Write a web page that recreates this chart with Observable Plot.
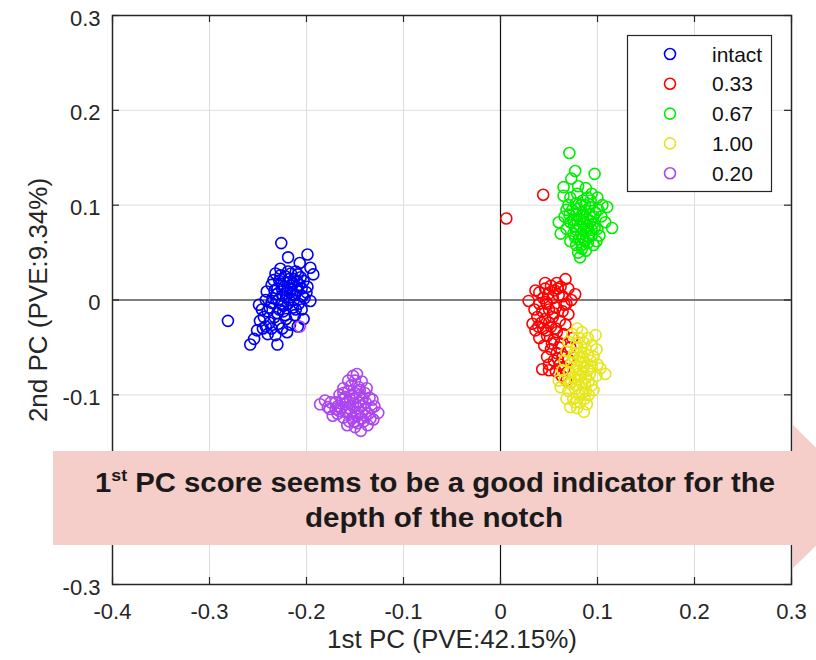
<!DOCTYPE html>
<html>
<head>
<meta charset="utf-8">
<script src="https://cdn.jsdelivr.net/npm/d3@7"></script>
<script src="https://cdn.jsdelivr.net/npm/@observablehq/plot@0.6"></script>
<style>
  html, body { margin: 0; padding: 0; background: #fff; }
  #wrap { position: relative; width: 816px; height: 660px; overflow: hidden; }
  #overlay { position: absolute; left: 0; top: 0; pointer-events: none; }
</style>
</head>
<body>
<div id="wrap"></div>
<script>
const xTicks = [-0.4, -0.3, -0.2, -0.1, 0, 0.1, 0.2, 0.3];
const yTicks = [-0.3, -0.2, -0.1, 0, 0.1, 0.2, 0.3];
// the -0.2 y label is hidden behind the annotation arrow in the reference
const yTickLabels = [-0.3, -0.1, 0, 0.1, 0.2, 0.3];
const xLabel = "1st PC (PVE:42.15%)";
const yLabel = "2nd PC (PVE:9.34%)";
const groupNames = ["intact", "0.33", "0.67", "1.00", "0.20"];
const groupColors = ["#0000f0", "#ff0000", "#00ee00", "#e6e61c", "#ad45f0"];
const arrowLines = ["1st PC score seems to be a good indicator for the", "depth of the notch"];

const intactPts = [
[-0.281,-0.022],[-0.226,0.060],[-0.219,0.045],[-0.199,0.048],[-0.207,0.039],[-0.196,0.034],[-0.193,0.027],
[-0.258,-0.047],[-0.230,-0.047],[-0.220,-0.034],[-0.203,-0.020],[-0.196,-0.001],[-0.241,0.009],[-0.249,-0.005],
[-0.251,-0.032],[-0.254,-0.041],[-0.245,-0.030],[-0.232,-0.037],[-0.244,-0.018],[-0.229,-0.025],
[-0.220,0.010],[-0.215,0.015],[-0.225,0.005],[-0.210,0.020],[-0.230,0.012],[-0.218,0.000],[-0.212,0.005],
[-0.228,0.020],[-0.222,0.025],[-0.205,0.012],[-0.235,0.002],[-0.238,-0.008],[-0.214,-0.008],[-0.224,-0.012],
[-0.208,-0.004],[-0.216,0.028],[-0.232,0.028],[-0.226,-0.004],[-0.219,0.018],[-0.211,0.030],[-0.203,0.020],
[-0.236,0.016],[-0.240,-0.012],[-0.233,-0.018],[-0.221,-0.020],[-0.212,-0.016],[-0.205,-0.010],[-0.200,0.008],
[-0.227,0.033],[-0.209,-0.028],[-0.238,-0.024],[-0.246,-0.010],[-0.217,-0.026],[-0.225,-0.030],[-0.202,0.002],
[-0.213,0.022],[-0.231,0.006],[-0.223,0.014],[-0.217,0.008],[-0.228,-0.010],[-0.242,0.000],[-0.199,0.014],
[-0.221,0.003],[-0.216,0.012],[-0.226,0.017],[-0.213,0.000],[-0.207,0.016],[-0.229,0.000],[-0.218,0.022],
[-0.224,-0.006],[-0.210,0.010],[-0.233,0.010],[-0.219,-0.004],[-0.214,0.018],[-0.227,0.026],[-0.206,0.024],
[-0.222,-0.016],[-0.236,-0.003],[-0.211,-0.010],[-0.230,-0.014],[-0.215,0.006],[-0.204,0.004],[-0.225,0.011],
[-0.219,0.030],[-0.234,0.021],[-0.209,0.027],[-0.242,-0.028],[-0.248,-0.022],[-0.236,-0.030],[-0.240,-0.036]
];
const d033Pts = [
[0.006,0.086],[0.044,0.111],
[0.029,-0.001],[0.036,0.010],[0.067,0.022],[0.077,0.006],[0.043,-0.073],[0.050,-0.074],[0.033,-0.025],
[0.040,0.008],[0.046,0.012],[0.052,0.015],[0.058,0.018],[0.062,0.014],[0.070,0.012],[0.073,0.000],[0.068,-0.004],
[0.060,0.005],[0.054,0.002],[0.047,-0.002],[0.040,-0.004],[0.035,-0.010],[0.043,-0.012],[0.050,-0.010],[0.057,-0.008],
[0.064,-0.012],[0.070,-0.015],[0.038,-0.018],[0.046,-0.020],[0.054,-0.018],[0.061,-0.022],[0.067,-0.026],[0.036,-0.032],
[0.044,-0.030],[0.052,-0.028],[0.058,-0.034],[0.065,-0.036],[0.040,-0.040],[0.048,-0.038],[0.055,-0.042],[0.062,-0.046],
[0.045,-0.048],[0.052,-0.052],[0.058,-0.056],[0.064,-0.060],[0.048,-0.060],[0.055,-0.064],[0.061,-0.068],[0.066,-0.072],
[0.057,-0.075],[0.063,-0.080],[0.068,-0.085],[0.070,-0.063],[0.072,-0.050],[0.074,-0.040],[0.056,0.010],[0.064,0.004],
[0.049,0.006],[0.042,-0.024],
[0.048,-0.004],[0.055,-0.014],[0.044,0.002],[0.050,-0.024],[0.057,-0.030],[0.047,-0.032],[0.053,-0.046],
[0.060,-0.050],[0.050,-0.068],[0.059,-0.062],[0.066,-0.005],[0.059,0.012],[0.039,-0.028],[0.046,0.018]
];
const d067Pts = [
[0.071,0.155],[0.077,0.136],[0.097,0.133],[0.065,0.119],[0.065,0.110],[0.115,0.076],[0.060,0.082],[0.082,0.045],[0.110,0.098],
[0.073,0.128],[0.080,0.120],[0.088,0.118],[0.094,0.112],[0.100,0.108],[0.105,0.100],[0.072,0.108],[0.070,0.100],[0.078,0.102],
[0.085,0.105],[0.092,0.098],[0.098,0.092],[0.104,0.088],[0.108,0.082],[0.066,0.088],[0.072,0.082],[0.078,0.090],[0.085,0.092],
[0.090,0.085],[0.095,0.080],[0.100,0.075],[0.068,0.075],[0.075,0.070],[0.082,0.078],[0.088,0.072],[0.094,0.068],[0.102,0.068],
[0.072,0.062],[0.078,0.058],[0.085,0.065],[0.090,0.060],[0.096,0.058],[0.080,0.050],[0.088,0.052],[0.074,0.095],[0.082,0.085],
[0.090,0.075],[0.086,0.080],[0.076,0.078],[0.096,0.088],[0.068,0.095],[0.079,0.112],[0.087,0.100],[0.093,0.105],[0.083,0.070],
[0.091,0.067],[0.077,0.066],[0.099,0.062],[0.062,0.070],[0.084,0.058],[0.071,0.090],[0.101,0.095],[0.094,0.074],
[0.084,0.088],[0.088,0.094],[0.080,0.096],[0.092,0.090],[0.086,0.074],[0.081,0.064],[0.089,0.078],[0.079,0.084],
[0.093,0.083],[0.087,0.062],[0.083,0.100],[0.097,0.076],[0.075,0.085],[0.090,0.108],[0.084,0.054],[0.078,0.074]
];
const d100Pts = [
[0.079,-0.030],[0.098,-0.037],[0.108,-0.078],[0.086,-0.118],[0.072,-0.113],[0.062,-0.092],[0.060,-0.085],
[0.074,-0.036],[0.084,-0.034],[0.090,-0.040],[0.070,-0.044],[0.078,-0.046],[0.086,-0.045],[0.094,-0.048],[0.099,-0.052],
[0.068,-0.054],[0.076,-0.056],[0.083,-0.055],[0.090,-0.058],[0.096,-0.060],[0.066,-0.064],[0.073,-0.066],[0.080,-0.064],
[0.087,-0.066],[0.094,-0.070],[0.100,-0.068],[0.064,-0.074],[0.071,-0.076],[0.078,-0.074],[0.085,-0.076],[0.092,-0.078],
[0.099,-0.080],[0.066,-0.084],[0.073,-0.086],[0.080,-0.084],[0.087,-0.088],[0.094,-0.090],[0.070,-0.096],[0.077,-0.094],
[0.084,-0.098],[0.091,-0.100],[0.075,-0.104],[0.082,-0.108],[0.089,-0.110],[0.079,-0.114],[0.068,-0.104],[0.096,-0.095],
[0.103,-0.072],[0.081,-0.040],[0.088,-0.052],[0.075,-0.060],[0.083,-0.080],[0.088,-0.082],[0.079,-0.070],[0.072,-0.088],
[0.082,-0.060],[0.086,-0.070],[0.080,-0.078],[0.090,-0.074],[0.084,-0.088],[0.078,-0.090],[0.088,-0.096],[0.085,-0.060],
[0.093,-0.064],[0.076,-0.082],[0.081,-0.100],[0.087,-0.104],[0.091,-0.086],[0.079,-0.050],[0.083,-0.066],[0.077,-0.108]
];
const d020Pts = [
[-0.207,-0.028],
[-0.186,-0.110],[-0.181,-0.106],[-0.176,-0.115],[-0.170,-0.108],[-0.166,-0.100],[-0.162,-0.093],[-0.157,-0.085],
[-0.152,-0.080],[-0.148,-0.078],[-0.143,-0.086],[-0.146,-0.092],[-0.140,-0.098],[-0.135,-0.103],[-0.130,-0.112],
[-0.126,-0.119],[-0.131,-0.126],[-0.137,-0.132],[-0.144,-0.138],[-0.150,-0.134],[-0.156,-0.128],[-0.162,-0.124],
[-0.168,-0.120],[-0.173,-0.122],[-0.158,-0.118],[-0.152,-0.112],[-0.146,-0.108],[-0.140,-0.115],[-0.148,-0.122],
[-0.155,-0.105],[-0.160,-0.110],[-0.164,-0.114],[-0.143,-0.125],[-0.136,-0.120],[-0.150,-0.098],[-0.157,-0.096],
[-0.145,-0.100],[-0.139,-0.108],[-0.153,-0.125],[-0.160,-0.102],[-0.168,-0.112],[-0.133,-0.114],[-0.147,-0.130],
[-0.141,-0.128],[-0.154,-0.090],[-0.150,-0.085],[-0.163,-0.105],[-0.138,-0.093],[-0.175,-0.108],[-0.178,-0.113],
[-0.132,-0.105],[-0.158,-0.132],
[-0.152,-0.104],[-0.147,-0.114],[-0.156,-0.114],[-0.142,-0.104],[-0.160,-0.118],[-0.149,-0.118],[-0.144,-0.112],
[-0.153,-0.100],[-0.158,-0.108],[-0.139,-0.122],[-0.166,-0.117],[-0.145,-0.095],[-0.151,-0.128],[-0.162,-0.098],
[-0.134,-0.125],[-0.170,-0.115],[-0.155,-0.120],[-0.143,-0.119]
];

const groupPts = [intactPts, d033Pts, d067Pts, d100Pts, d020Pts];
const data = [];
groupPts.forEach((pts, gi) => pts.forEach(([x, y]) => data.push({x, y, g: groupNames[gi]})));

const fmt = d => d === 0 ? "0" : d.toFixed(1);
const ink = "#262626";
const tickLen = 0.6 / 569 * 7;
const tickLenX = 0.7 / 679 * 7;

const chart = Plot.plot({
  width: 816, height: 660,
  marginLeft: 112, marginRight: 25, marginTop: 15, marginBottom: 76,
  x: {domain: [-0.4, 0.3]},
  y: {domain: [-0.3, 0.3]},
  color: {domain: groupNames, range: groupColors},
  style: {fontFamily: "'Liberation Sans', Arial, sans-serif", fontSize: "22px", color: ink, background: "white", overflow: "visible"},
  marks: [
    Plot.gridX(xTicks, {stroke: "#dedede", strokeOpacity: 1, strokeWidth: 1}),
    Plot.gridY(yTicks, {stroke: "#dedede", strokeOpacity: 1, strokeWidth: 1}),
    Plot.ruleX([0], {stroke: "#111", strokeWidth: 1.2}),
    Plot.ruleY([0], {stroke: "#111", strokeWidth: 1.2}),
    Plot.dot(data, {x: "x", y: "y", stroke: "g", r: 5.5, strokeWidth: 1.6, fill: "none"}),
    Plot.ruleX(xTicks, {y1: -0.3, y2: -0.3 + tickLen, stroke: ink, strokeWidth: 1.2}),
    Plot.ruleX(xTicks, {y1: 0.3, y2: 0.3 - tickLen, stroke: ink, strokeWidth: 1.2}),
    Plot.ruleY(yTicks, {x1: -0.4, x2: -0.4 + tickLenX, stroke: ink, strokeWidth: 1.2}),
    Plot.ruleY(yTicks, {x1: 0.3, x2: 0.3 - tickLenX, stroke: ink, strokeWidth: 1.2}),
    Plot.frame({stroke: ink, strokeWidth: 1.5}),
    Plot.axisX(xTicks, {tickSize: 0, tickPadding: 19, tickFormat: fmt, fontSize: 22, label: null, fill: ink}),
    Plot.axisY(yTickLabels, {tickSize: 0, tickPadding: 12, tickFormat: fmt, fontSize: 22, label: null, fill: ink, dy: 3}),
    Plot.text([xLabel], {frameAnchor: "bottom", dy: 63, fontSize: 26, fill: ink, text: d => d, textAnchor: "middle"}),
    Plot.text([yLabel], {frameAnchor: "left", dx: -74, rotate: -90, fontSize: 26, fill: ink, text: d => d, textAnchor: "middle"})
  ]
});

const wrap = document.getElementById("wrap");
wrap.appendChild(chart);

// Overlay: legend + annotation arrow
const ov = d3.select(wrap).append("svg")
  .attr("id", "overlay").attr("width", 816).attr("height", 660)
  .style("font-family", "'Liberation Sans', Arial, sans-serif");

// Legend
const lg = ov.append("g");
lg.append("rect").attr("x", 627.5).attr("y", 35.5).attr("width", 144).attr("height", 156)
  .attr("fill", "white").attr("stroke", ink).attr("stroke-width", 1.2);
groupNames.forEach((name, i) => {
  const cy = 54 + i * 29.8;
  lg.append("circle").attr("cx", 670).attr("cy", cy).attr("r", 5.5)
    .attr("fill", "none").attr("stroke", groupColors[i]).attr("stroke-width", 1.6);
  lg.append("text").attr("x", 712).attr("y", cy).attr("dy", "0.36em")
    .attr("font-size", 21).attr("fill", "#111").text(name);
});

// Arrow annotation
const ag = ov.append("g");
ag.append("path")
  .attr("d", "M53,451 L793,451 L793,425 L866,497 L793,568 L793,545 L53,545 Z")
  .attr("fill", "#f5cdc9");
const t1 = ag.append("text").attr("x", 435).attr("y", 492).attr("text-anchor", "middle")
  .attr("font-size", 28).attr("font-weight", "bold").attr("fill", "#1a1a1a")
  .attr("textLength", 680).attr("lengthAdjust", "spacingAndGlyphs");
t1.append("tspan").text("1");
t1.append("tspan").attr("font-size", 17).attr("dy", -11).text("st");
t1.append("tspan").attr("dy", 11).text(arrowLines[0].slice(3));
ag.append("text").attr("x", 434).attr("y", 527).attr("text-anchor", "middle")
  .attr("font-size", 28).attr("font-weight", "bold").attr("fill", "#1a1a1a")
  .attr("textLength", 258).attr("lengthAdjust", "spacingAndGlyphs").text(arrowLines[1]);
</script>
</body>
</html>
